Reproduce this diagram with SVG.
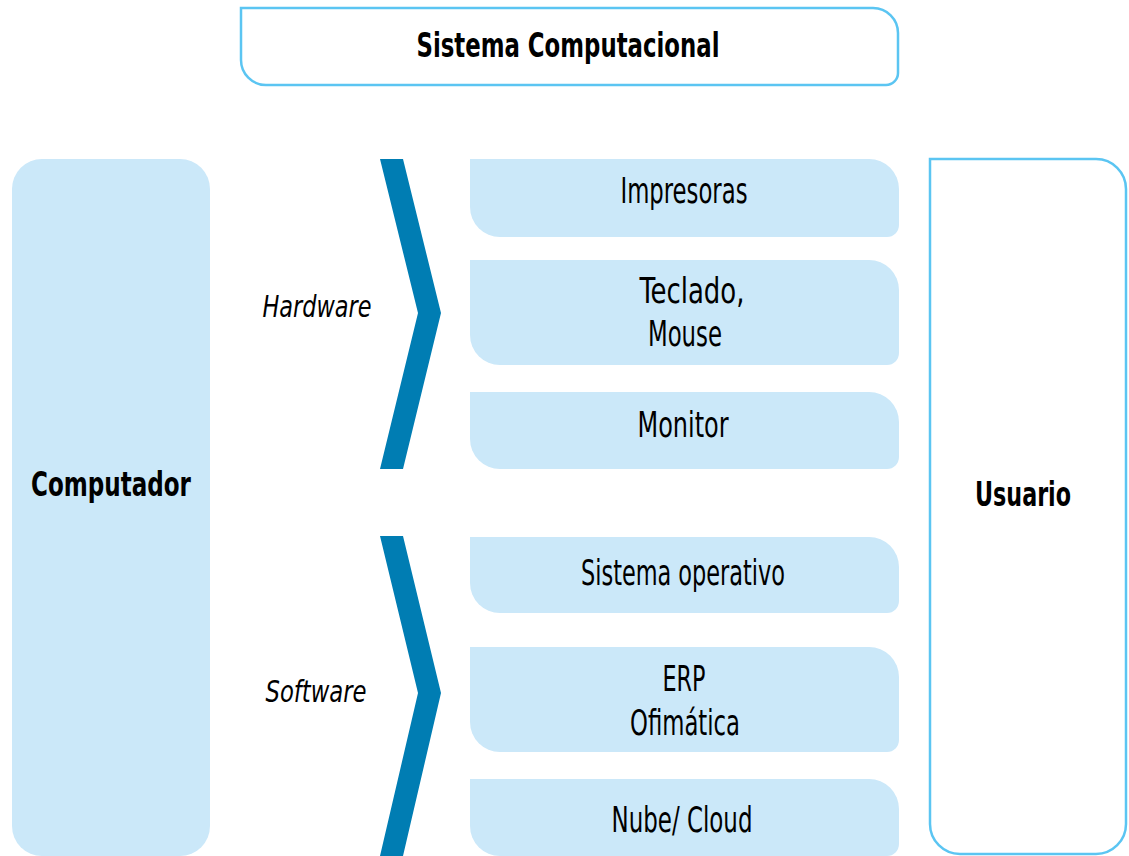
<svg xmlns="http://www.w3.org/2000/svg" width="1129" height="856" viewBox="0 0 1129 856">
  <style>
    .lbl { font-family: "Liberation Sans Narrow", "DejaVu Sans Condensed", "Liberation Sans", sans-serif; fill: #000; text-anchor: middle; font-size: 35px; }
    .b { font-weight: bold; font-size: 33px; }
    .i { font-style: italic; font-size: 31px; }
    .item { fill: #CBE8F9; }
    .frame { fill: #fff; stroke: #5BC5F2; stroke-width: 2.5; }
    .chev { fill: #007DB3; }
  </style>
  <rect width="1129" height="856" fill="#fff"/>

  <g id="title">
    <path class="frame" d="M241,8 H873 A25,25 0 0 1 898,33 V73 A12,12 0 0 1 886,85 H266 A25,25 0 0 1 241,60 Z"/>
    <text class="lbl b" x="568" y="57" textLength="303" lengthAdjust="spacingAndGlyphs">Sistema Computacional</text>
  </g>

  <g id="computador">
    <rect class="item" x="12" y="159" width="198" height="697" rx="30"/>
    <text class="lbl b" x="111" y="496" textLength="160" lengthAdjust="spacingAndGlyphs">Computador</text>
  </g>

  <g id="usuario">
    <path class="frame" d="M930,159 H1096 A30,30 0 0 1 1126,189 V824 A30,30 0 0 1 1096,854 H960 A30,30 0 0 1 930,824 Z"/>
    <text class="lbl b" x="1023" y="506" textLength="96" lengthAdjust="spacingAndGlyphs">Usuario</text>
  </g>

  <g id="connectors">
    <polygon class="chev" points="380,159 403,159 441,313 403,469 380,469 418,313"/>
    <polygon class="chev" points="380,536 403,536 441,693 403,856 380,856 418,693"/>
  </g>

  <g id="hardware-label">
    <text class="lbl i" x="317" y="317" textLength="109" lengthAdjust="spacingAndGlyphs">Hardware</text>
  </g>
  <g id="software-label">
    <text class="lbl i" x="316" y="702" textLength="101" lengthAdjust="spacingAndGlyphs">Software</text>
  </g>

  <g id="impresoras">
    <path class="item" d="M470,159 H869 A30,30 0 0 1 899,189 V225 A12,12 0 0 1 887,237 H500 A30,30 0 0 1 470,207 Z"/>
    <text class="lbl" x="684" y="203" textLength="127" lengthAdjust="spacingAndGlyphs">Impresoras</text>
  </g>

  <g id="teclado">
    <path class="item" d="M470,260 H869 A30,30 0 0 1 899,290 V353 A12,12 0 0 1 887,365 H500 A30,30 0 0 1 470,335 Z"/>
    <text class="lbl" x="692" y="303" textLength="105" lengthAdjust="spacingAndGlyphs">Teclado,</text>
    <text class="lbl" x="685" y="346" textLength="74" lengthAdjust="spacingAndGlyphs">Mouse</text>
  </g>

  <g id="monitor">
    <path class="item" d="M470,392 H869 A30,30 0 0 1 899,422 V457 A12,12 0 0 1 887,469 H500 A30,30 0 0 1 470,439 Z"/>
    <text class="lbl" x="683" y="437" textLength="91" lengthAdjust="spacingAndGlyphs">Monitor</text>
  </g>

  <g id="sistema-operativo">
    <path class="item" d="M470,537 H869 A30,30 0 0 1 899,567 V601 A12,12 0 0 1 887,613 H500 A30,30 0 0 1 470,583 Z"/>
    <text class="lbl" x="683" y="585" textLength="204" lengthAdjust="spacingAndGlyphs">Sistema operativo</text>
  </g>

  <g id="erp">
    <path class="item" d="M470,647 H869 A30,30 0 0 1 899,677 V740 A12,12 0 0 1 887,752 H500 A30,30 0 0 1 470,722 Z"/>
    <text class="lbl" x="684" y="691" textLength="43" lengthAdjust="spacingAndGlyphs">ERP</text>
    <text class="lbl" x="685" y="735" textLength="110" lengthAdjust="spacingAndGlyphs">Ofimática</text>
  </g>

  <g id="nube">
    <path class="item" d="M470,779 H869 A30,30 0 0 1 899,809 V844 A12,12 0 0 1 887,856 H500 A30,30 0 0 1 470,826 Z"/>
    <text class="lbl" x="682" y="832" textLength="141" lengthAdjust="spacingAndGlyphs">Nube/ Cloud</text>
  </g>
</svg>
